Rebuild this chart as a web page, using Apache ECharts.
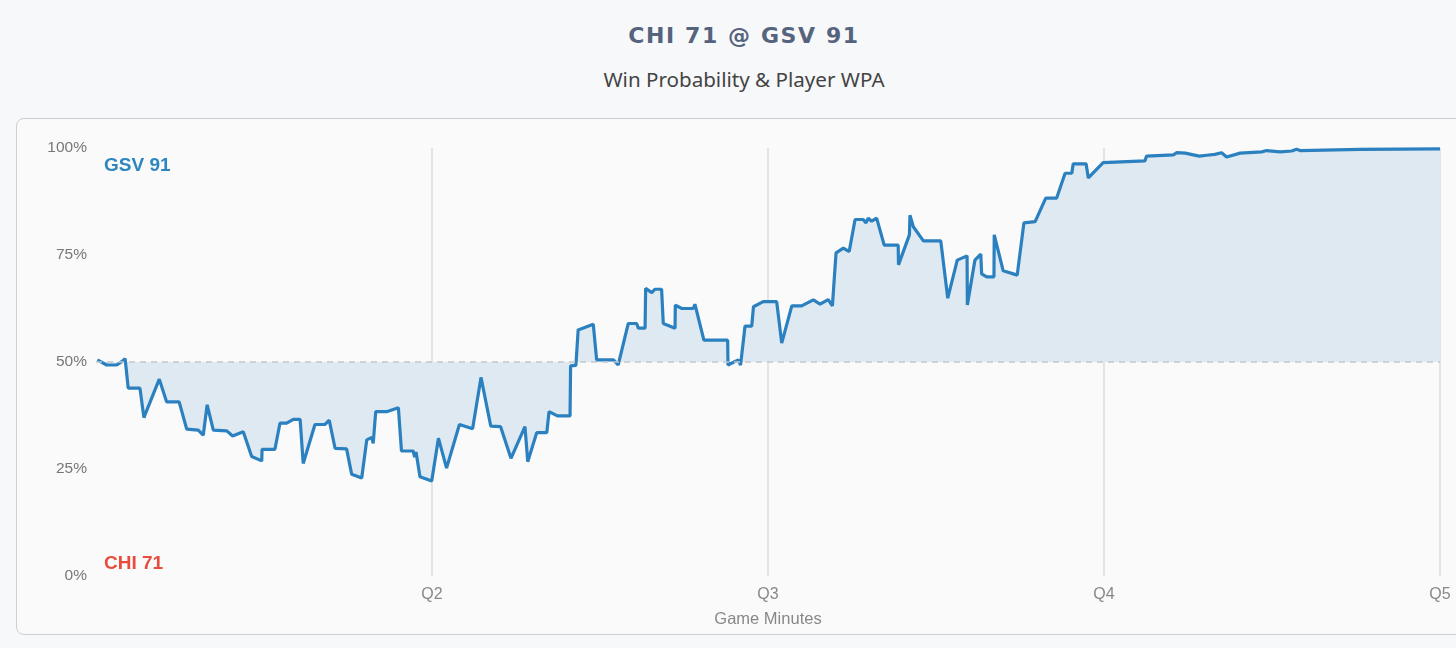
<!DOCTYPE html>
<html>
<head>
<meta charset="utf-8">
<script src="https://cdn.jsdelivr.net/npm/echarts@6/dist/echarts.min.js"></script>
<style>
  html, body { margin: 0; padding: 0; background: #f7f8fa; width: 1456px; height: 648px; overflow: hidden; }
  #title { position: absolute; left: 0; width: 1488px; top: 21px; line-height: 30px; text-align: center; font-family: "DejaVu Sans", sans-serif; font-weight: bold; font-size: 22px; letter-spacing: 1.6px; color: #56637d; }
  #sub { position: absolute; left: 0; width: 1488px; top: 65px; line-height: 28px; text-align: center; font-family: "Noto Sans", sans-serif; font-size: 20.6px; color: #444; }
  #box { position: absolute; left: 16px; top: 118px; width: 1480px; height: 515px; border: 1px solid #cfcfcf; border-radius: 8px; background: #fafafa; }
  #chart { position: absolute; left: 0; top: 0; width: 1456px; height: 648px; }
</style>
</head>
<body>
<div id="title">CHI 71 @ GSV 91</div>
<div id="sub">Win Probability &amp; Player WPA</div>
<div id="box"></div>
<div id="chart"></div>
<script>
const minutes = [0.05,0.38,0.74,0.92,1.04,1.15,1.57,1.71,2.26,2.52,2.97,3.24,3.65,3.83,3.97,4.19,4.67,4.88,5.26,5.56,5.92,5.93,6.39,6.57,6.81,7.05,7.29,7.40,7.82,8.18,8.33,8.54,8.95,9.13,9.49,9.67,9.85,9.90,9.99,10.38,10.80,10.91,11.33,11.38,11.43,11.57,11.99,12.23,12.52,12.98,13.45,13.75,14.10,14.45,14.82,15.32,15.42,15.74,16.10,16.18,16.48,16.93,16.95,17.14,17.22,17.76,17.88,18.48,18.65,19.01,19.31,19.37,19.61,19.63,19.85,19.96,20.20,20.26,20.68,20.69,20.92,21.33,21.39,21.71,22.56,22.57,22.94,23.02,23.18,23.42,23.48,23.83,24.31,24.49,24.85,25.20,25.62,25.86,26.15,26.30,26.43,26.69,26.90,27.11,27.40,27.50,27.58,27.70,27.88,28.15,28.65,28.66,29.05,29.07,29.19,29.55,30.17,30.42,30.76,31.11,31.12,31.39,31.60,31.63,31.81,32.07,32.08,32.40,32.90,33.14,33.54,33.92,34.31,34.61,34.85,34.90,35.36,35.44,35.97,37.46,37.52,38.48,38.60,38.90,39.40,39.67,39.96,40.20,40.38,40.86,41.63,41.81,42.29,42.70,42.88,43.00,45.14,48.00];
const gsvWinPct = [50.5,49.3,49.3,50.1,50.8,43.9,43.9,37.0,46.0,40.7,40.7,34.3,34.1,32.9,40.0,34.1,33.9,32.7,33.7,27.9,26.9,29.6,29.6,35.7,35.7,36.6,36.6,26.3,35.4,35.4,36.4,29.8,29.7,23.8,22.9,31.8,32.4,31.0,38.4,38.4,39.3,29.2,29.2,27.8,29.0,23.2,22.2,32.2,25.2,35.4,34.4,46.4,35.0,34.9,27.5,34.9,26.7,33.5,33.5,38.4,37.4,37.4,49.1,49.2,57.5,58.8,50.5,50.5,49.3,59.0,59.0,57.9,57.9,67.2,66.2,67.0,67.0,59.0,57.9,63.3,62.5,62.5,63.5,55.1,55.1,49.3,50.5,49.3,58.4,58.4,62.9,64.1,64.1,54.4,63.1,63.1,64.5,63.5,64.6,63.1,75.5,76.6,75.8,83.3,83.3,82.5,83.6,82.9,83.6,77.3,77.3,72.7,79.7,84.3,81.6,78.3,78.3,64.9,73.8,74.8,63.3,73.8,75.2,70.6,69.9,69.9,79.7,71.3,70.3,82.5,82.8,88.3,88.3,94.1,94.1,96.3,96.3,93.0,96.6,97.0,98.1,98.4,98.9,98.8,98.1,98.3,98.5,98.9,97.9,98.8,99.1,99.4,99.1,99.3,99.7,99.4,99.7,99.8];
const quarterLabels = ['Q1','Q2','Q3','Q4','Q5'];
const yTicks = [0,25,50,75,100];
const homeLabel = 'GSV 91';
const awayLabel = 'CHI 71';

const chart = echarts.init(document.getElementById('chart'), null, {renderer: 'canvas'});
const data = minutes.map((m, i) => [m, gsvWinPct[i]]);
chart.setOption({
  backgroundColor: 'transparent',
  animation: false,
  grid: { left: 96, right: 16, top: 148, bottom: 72 },
  xAxis: {
    type: 'value', min: 0, max: 48, interval: 12,
    name: 'Game Minutes', nameLocation: 'middle', nameGap: 35,
    nameTextStyle: { color: '#888', fontSize: 16.5, fontFamily: 'Liberation Sans' },
    axisLine: { show: false }, axisTick: { show: false },
    axisLabel: { showMinLabel: false, color: '#888', fontSize: 16, fontFamily: 'Liberation Sans', margin: 11,
      formatter: v => quarterLabels[Math.round(v / 12)] },
    splitLine: { show: true, showMinLine: false, lineStyle: { color: '#dcdcdc', width: 1.5 } }
  },
  yAxis: {
    type: 'value', min: 0, max: 100, interval: 25,
    axisLine: { show: false }, axisTick: { show: false },
    axisLabel: { color: '#777', fontSize: 15.5, fontFamily: 'Liberation Sans', margin: 9,
      formatter: v => yTicks.includes(v) ? v + '%' : '' },
    splitLine: { show: false }
  },
  graphic: [
    { type: 'text', left: 104, top: 156, style: { text: homeLabel, fill: '#2e86c1', font: 'bold 19px "Liberation Sans"' } },
    { type: 'text', left: 104, top: 554, style: { text: awayLabel, fill: '#e74c3c', font: 'bold 19px "Liberation Sans"' } }
  ],
  series: [{
    type: 'line', data: data, symbol: 'none', smooth: false,
    lineStyle: { color: '#2b80c0', width: 3.2 },
    areaStyle: { origin: 50, color: '#dfe9f2', opacity: 1 },
    markLine: {
      silent: true, symbol: 'none', label: { show: false },
      lineStyle: { color: '#c4c8cc', type: [6, 5], width: 1.5 },
      data: [{ yAxis: 50 }]
    },
    z: 3
  }]
});
</script>
</body>
</html>
